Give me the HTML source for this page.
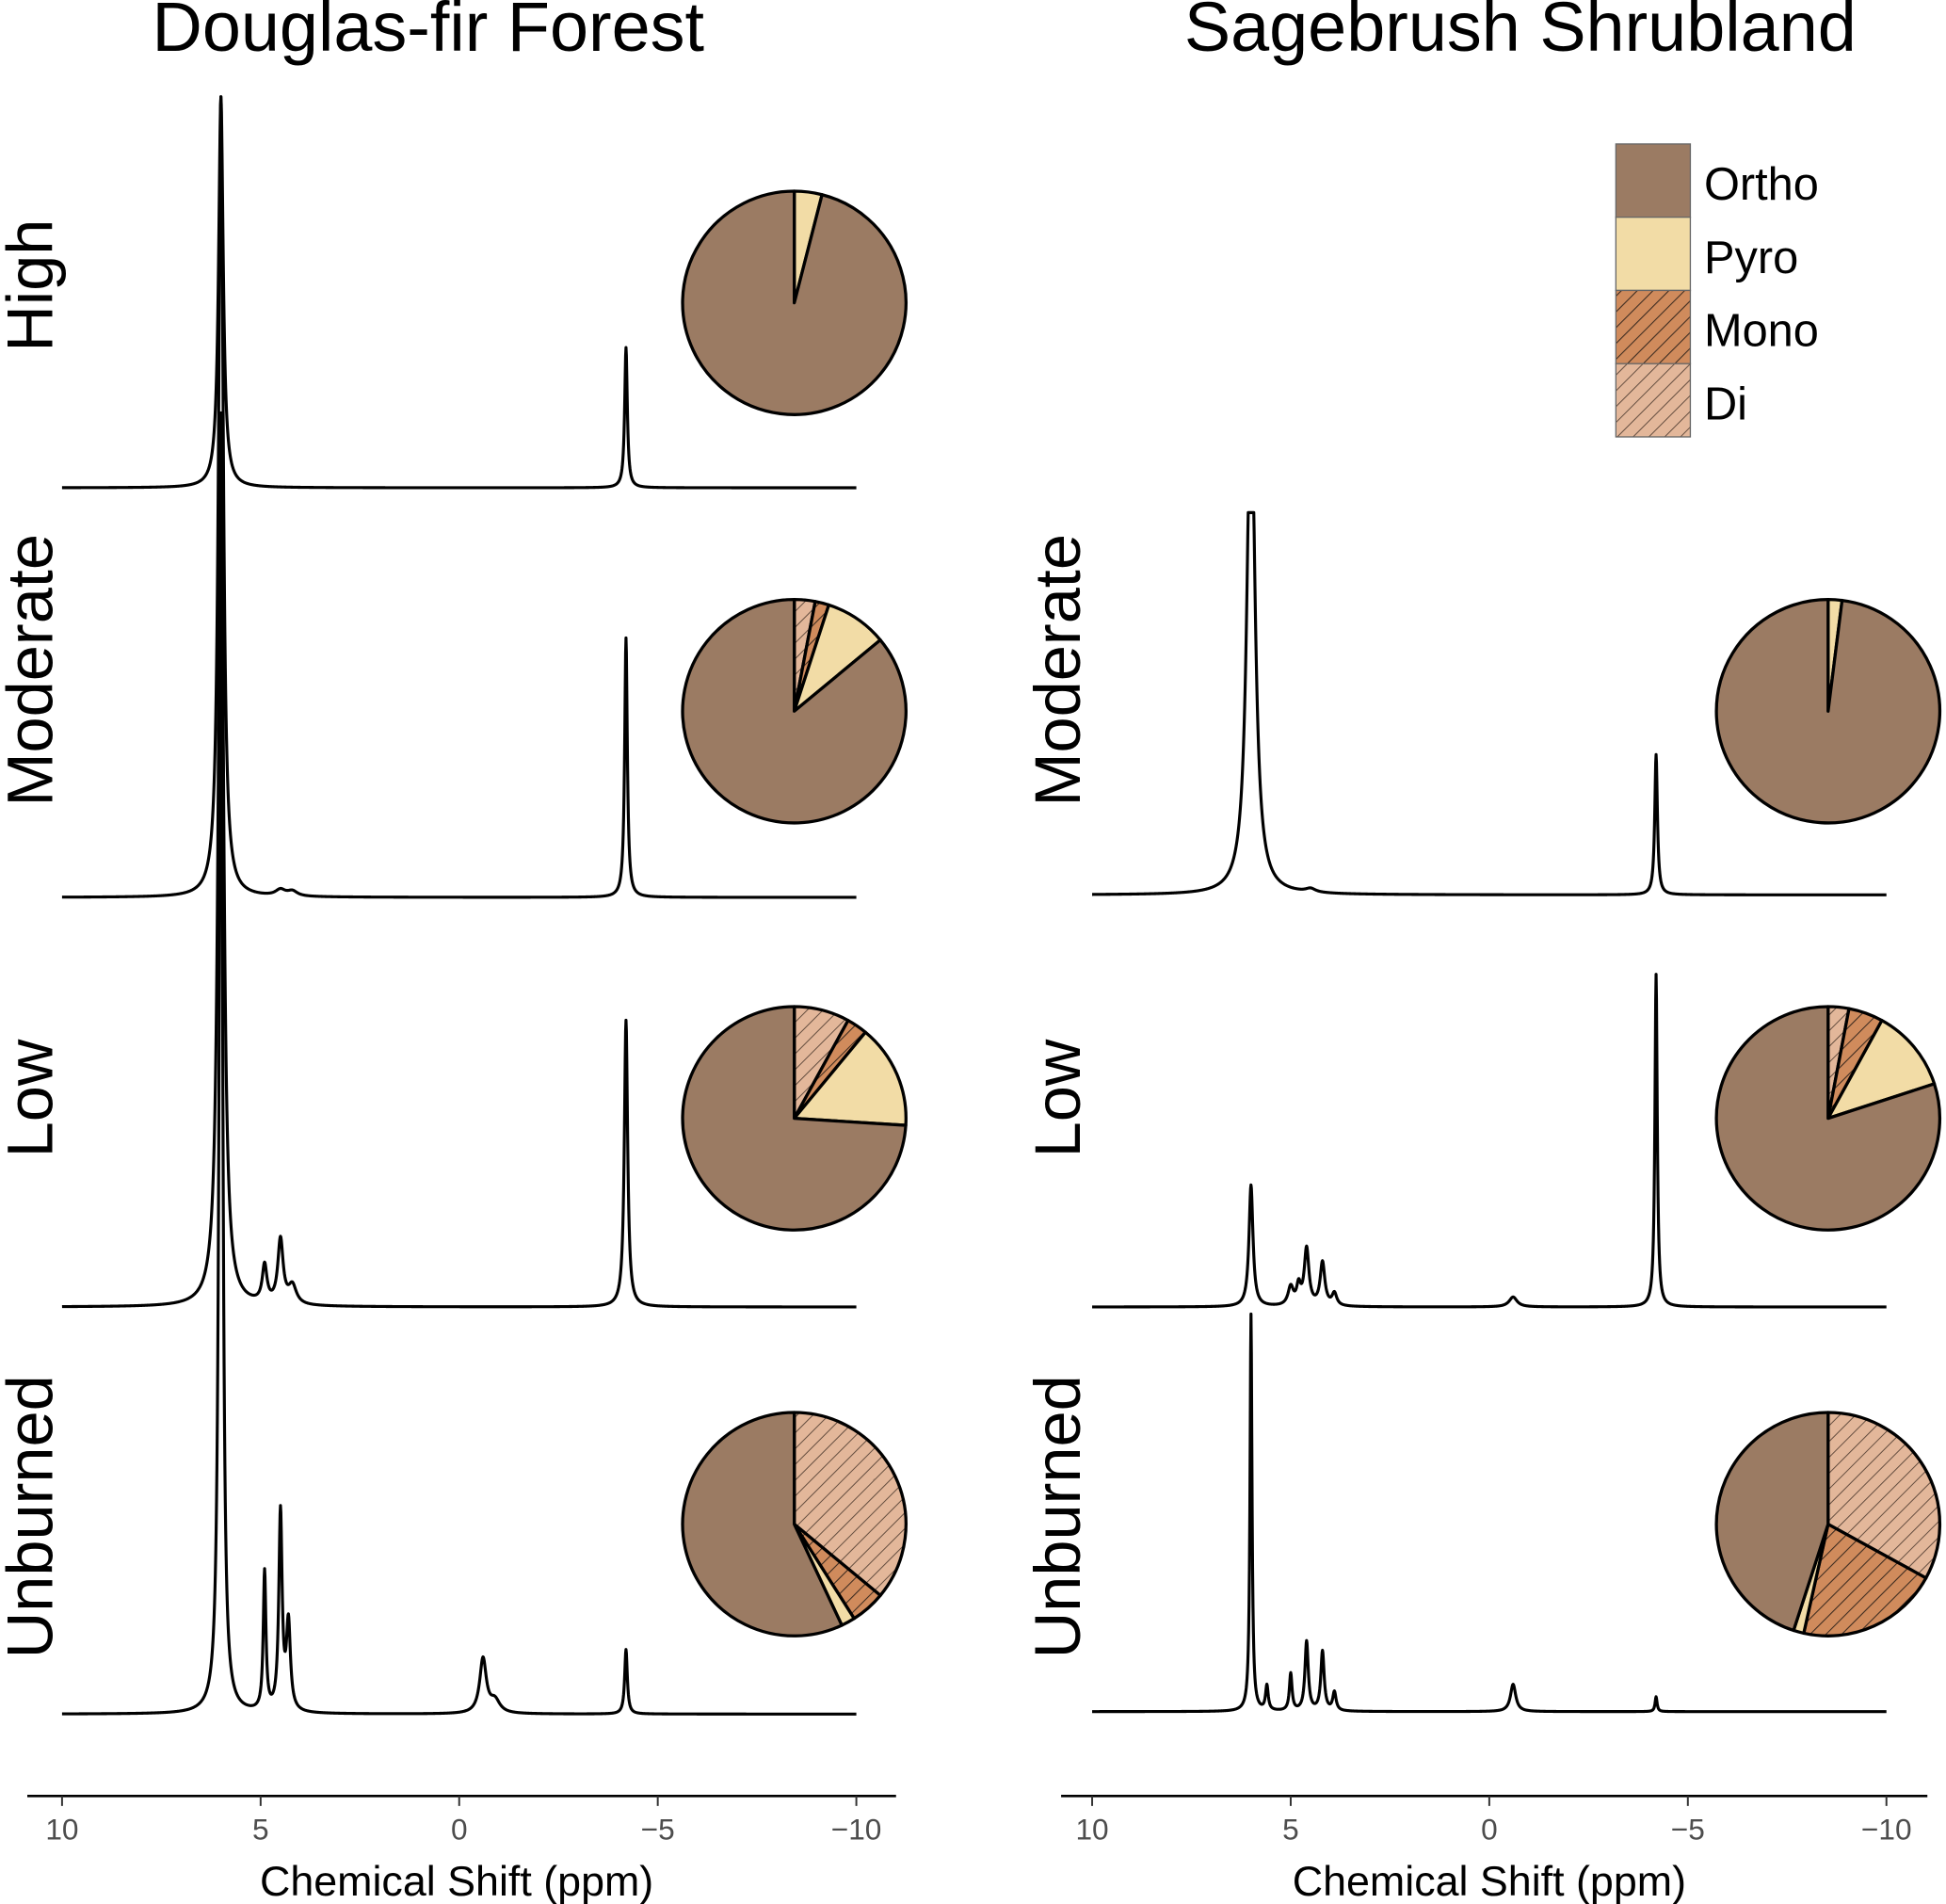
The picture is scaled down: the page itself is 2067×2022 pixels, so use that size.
<!DOCTYPE html>
<html><head><meta charset="utf-8"><style>
html,body{margin:0;padding:0;background:#fff}
svg{display:block;font-family:"Liberation Sans",sans-serif}
</style></head><body>
<svg id="chart" width="2067" height="2022" viewBox="0 0 1568 1534" preserveAspectRatio="none" xmlns="http://www.w3.org/2000/svg">
<defs>
<pattern id="hatchMono" patternUnits="userSpaceOnUse" width="9" height="9" patternTransform="rotate(45)">
<rect width="9" height="9" fill="#d08b5c"/><line x1="0" y1="0" x2="0" y2="9" stroke="#3a2a20" stroke-width="1.6"/></pattern>
<pattern id="hatchDi" patternUnits="userSpaceOnUse" width="9" height="9" patternTransform="rotate(45)">
<rect width="9" height="9" fill="#e3b79a"/><line x1="0" y1="0" x2="0" y2="9" stroke="#5a4538" stroke-width="1.4"/></pattern>
</defs>
<text x="345" y="41" font-size="56" text-anchor="middle">Douglas-fir Forest</text>
<text x="1225" y="41" font-size="56" text-anchor="middle">Sagebrush Shrubland</text>
<g id="layer"></g>
<g>
<rect x="1302" y="116" width="60" height="59" fill="#9b7b63" stroke="#666"/>
<rect x="1302" y="175" width="60" height="59" fill="#f2dca6" stroke="#666"/>
<rect x="1302" y="234" width="60" height="59" fill="url(#hatchMono)" stroke="#666"/>
<rect x="1302" y="293" width="60" height="59" fill="url(#hatchDi)" stroke="#666"/>
<text x="1373" y="161" font-size="37">Ortho</text>
<text x="1373" y="220" font-size="37">Pyro</text>
<text x="1373" y="279" font-size="37">Mono</text>
<text x="1373" y="338" font-size="37">Di</text>
</g>
</svg>
<script>
// ---- data ----
const ticks = [10, 5, 0, -5, -10];
const tickLabels = ["10", "5", "0", "\u22125", "\u221210"];
// spectra: peak positions (ppm), heights (px), widths (ppm)
const leftHighPos = [6.0, -4.2];
const leftHighH = [315, 113];
const leftHighW = [0.07, 0.04];
const leftModPos = [6.0, 4.5, 4.2, -4.2];
const leftModH = [645, 5, 4, 209];
const leftModW = [0.07, 0.15, 0.15, 0.04];
const leftLowPos = [6.0, 4.9, 4.5, 4.2, -4.2];
const leftLowH = [720, 30, 52, 15, 231];
const leftLowW = [0.08, 0.07, 0.08, 0.12, 0.05];
const leftUnbPos = [6.0, 4.9, 4.5, 4.3, -0.6, -0.9, -4.2];
const leftUnbH = [1000, 112, 160, 70, 44, 10, 52];
const leftUnbW = [0.05, 0.04, 0.05, 0.06, 0.1, 0.15, 0.04];
const rightModPos = [6.0, 4.5, -4.2];
const rightModH = [420, 3, 113];
const rightModW = [0.12, 0.15, 0.04];
const rightLowPos = [6.0, 5.0, 4.8, 4.6, 4.2, 3.9, -0.6, -4.2];
const rightLowH = [98, 15, 15, 46, 35, 10, 8, 268];
const rightLowW = [0.06, 0.08, 0.06, 0.07, 0.07, 0.07, 0.12, 0.035];
const rightUnbPos = [6.0, 5.6, 5.0, 4.6, 4.2, 3.9, -0.6, -4.2];
const rightUnbH = [320, 20, 30, 56, 48, 15, 22, 12];
const rightUnbW = [0.03, 0.04, 0.04, 0.05, 0.05, 0.05, 0.08, 0.03];
// pies: fractions [Di, Mono, Pyro, Ortho] clockwise from top
const pieLeftHigh = [0, 0, 0.04, 0.96];
const pieLeftMod = [0.03, 0.02, 0.09, 0.86];
const pieLeftLow = [0.08, 0.03, 0.15, 0.74];
const pieLeftUnb = [0.36, 0.05, 0.02, 0.57];
const pieRightMod = [0, 0, 0.02, 0.98];
const pieRightLow = [0.03, 0.05, 0.12, 0.80];
const pieRightUnb = [0.33, 0.205, 0.015, 0.45];
const rowLabels = ["High", "Moderate", "Low", "Unburned"];

// ---- drawing ----
const NS = "http://www.w3.org/2000/svg";
const layer = document.getElementById('layer');
function mk(tag, attrs, parent) {
  const e = document.createElementNS(NS, tag);
  for (const k in attrs) e.setAttribute(k, attrs[k]);
  (parent || layer).appendChild(e);
  return e;
}
const panels = [
  {x0: 50, axisL: 22, axisR: 722, title: 368},
  {x0: 880, axisL: 855, axisR: 1553, title: 1200}
];
function xScale(p, ppm) { return panels[p].x0 + (10 - ppm) * 32; }

panels.forEach((pn, p) => {
  const ax = mk('line', {x1: pn.axisL, x2: pn.axisR, y1: 1447, y2: 1447, stroke: '#000', 'stroke-width': 2});
  
  
  ticks.forEach((t, i) => {
    const x = xScale(p, t);
    const tk = mk('line', {x1: x, x2: x, y1: 1447, y2: 1455, stroke: '#333', 'stroke-width': 1.5});
    
    
    const tl = mk('text', {x: x, y: 1482, 'font-size': 24, fill: '#4d4d4d', 'text-anchor': 'middle'});
    
    
    tl.textContent = tickLabels[i];
  });
  const at = mk('text', {x: pn.title, y: 1527, 'font-size': 34, 'text-anchor': 'middle'});
  
  
  at.textContent = 'Chemical Shift (ppm)';
});

function spectrum(p, base, pos, h, w, name, clipY) {
  let pts = [];
  for (let ppm = 10; ppm >= -10.0001; ppm -= 0.01) {
    let y = 0;
    for (let i = 0; i < pos.length; i++) {
      const d = ppm - pos[i];
      y += h[i] * w[i] * w[i] / (d * d + w[i] * w[i]);
    }
    let yy = base - y;
    if (clipY !== undefined && yy < clipY) yy = clipY;
    pts.push(xScale(p, ppm).toFixed(2) + ',' + yy.toFixed(2));
  }
  const l = mk('polyline', {points: pts.join(' '), fill: 'none', stroke: '#000', 'stroke-width': 2.4, 'stroke-linejoin': 'round'});
  
  
}
spectrum(0, 393, leftHighPos, leftHighH, leftHighW, 'spectrum-douglas-high');
spectrum(0, 723, leftModPos, leftModH, leftModW, 'spectrum-douglas-moderate');
spectrum(0, 1053, leftLowPos, leftLowH, leftLowW, 'spectrum-douglas-low');
spectrum(0, 1381, leftUnbPos, leftUnbH, leftUnbW, 'spectrum-douglas-unburned');
spectrum(1, 721, rightModPos, rightModH, rightModW, 'spectrum-sagebrush-moderate', 413);
spectrum(1, 1053, rightLowPos, rightLowH, rightLowW, 'spectrum-sagebrush-low');
spectrum(1, 1379, rightUnbPos, rightUnbH, rightUnbW, 'spectrum-sagebrush-unburned');

const fills = ['url(#hatchDi)', 'url(#hatchMono)', '#f2dca6', '#9b7b63'];
const cats = ['di', 'mono', 'pyro', 'ortho'];
function pie(cx, cy, r, fr, name) {
  const g = mk('g', {});
  
  
  let a = 0;
  fr.forEach((f, i) => {
    if (f <= 0) return;
    const a0 = a * 2 * Math.PI, a1 = (a + f) * 2 * Math.PI;
    a += f;
    const x0 = cx + r * Math.sin(a0), y0 = cy - r * Math.cos(a0);
    const x1 = cx + r * Math.sin(a1), y1 = cy - r * Math.cos(a1);
    const large = f > 0.5 ? 1 : 0;
    const s = mk('path', {d: `M${cx},${cy} L${x0},${y0} A${r},${r} 0 ${large} 1 ${x1},${y1} Z`, fill: fills[i], stroke: '#000', 'stroke-width': 2.5, 'stroke-linejoin': 'round'}, g);
    
    
  });
}
pie(640, 244, 90, pieLeftHigh, 'pie-douglas-high');
pie(640, 573, 90, pieLeftMod, 'pie-douglas-moderate');
pie(640, 901, 90, pieLeftLow, 'pie-douglas-low');
pie(640, 1228, 90, pieLeftUnb, 'pie-douglas-unburned');
pie(1473, 573, 90, pieRightMod, 'pie-sagebrush-moderate');
pie(1473, 901, 90, pieRightLow, 'pie-sagebrush-low');
pie(1473, 1228, 90, pieRightUnb, 'pie-sagebrush-unburned');

const leftRowY = [230, 540, 885, 1222];
const rightRowY = [540, 885, 1222];
rowLabels.forEach((t, i) => {
  const e = mk('text', {x: 0, y: 0, 'font-size': 52, 'text-anchor': 'middle', transform: `translate(42,${leftRowY[i]}) rotate(-90)`});
  
  
  e.textContent = t;
  if (i > 0) {
    const r = mk('text', {x: 0, y: 0, 'font-size': 52, 'text-anchor': 'middle', transform: `translate(870,${rightRowY[i - 1]}) rotate(-90)`});
    
    
    r.textContent = t;
  }
});
</script>
</body></html>
